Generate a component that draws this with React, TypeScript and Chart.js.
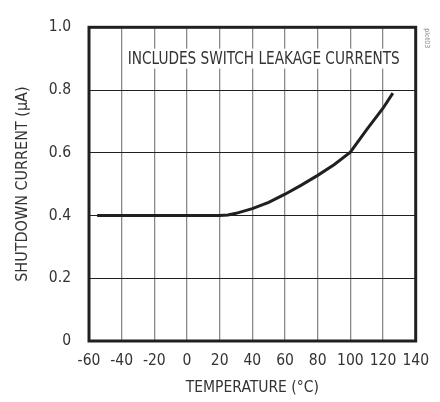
import React, { useEffect, useRef } from "react";
import { Chart, registerables } from "chart.js";

Chart.register(...registerables);

const temperatures = [-55, 20, 25, 30, 40, 50, 60, 70, 80, 90, 100, 110, 120, 126];
const shutdownCurrent = [0.4, 0.4, 0.402, 0.407, 0.422, 0.442, 0.468, 0.497, 0.528, 0.562, 0.602, 0.674, 0.742, 0.79];
const xTickValues = [-60, -40, -20, 0, 20, 40, 60, 80, 100, 120, 140];
const yTickValues = [0, 0.2, 0.4, 0.6, 0.8, 1.0];
const noteText = "INCLUDES SWITCH LEAKAGE CURRENTS";
const xTitle = "TEMPERATURE (°C)";
const yTitle = "SHUTDOWN CURRENT (µA)";
const fileTag = "plot03";

const FONT = "'Liberation Sans Narrow', 'DejaVu Sans Condensed', 'Roboto', sans-serif";
const INK = "#231f20";

const framePlugin = {
  id: "frame",
  beforeDatasetsDraw(chart: any) {
    const { ctx } = chart;
    const xs = chart.scales.x;
    const ys = chart.scales.y;
    ctx.save();
    ctx.font = `18px ${FONT}`;
    const w = ctx.measureText(noteText).width;
    const targetW = 272;
    const sx = targetW / w;
    const cx = xs.getPixelForValue(47);
    const cy = ys.getPixelForValue(0.9);
    ctx.fillStyle = "#ffffff";
    ctx.fillRect(cx - targetW / 2 - 3, cy - 10, targetW + 6, 20);
    ctx.translate(cx, cy);
    ctx.scale(sx, 1);
    ctx.fillStyle = "#333333";
    ctx.textAlign = "center";
    ctx.textBaseline = "middle";
    ctx.fillText(noteText, 0, 1);
    ctx.restore();
  },
  afterDatasetsDraw(chart: any) {
    const { ctx, chartArea } = chart;
    ctx.save();
    ctx.strokeStyle = INK;
    ctx.lineWidth = 3;
    ctx.strokeRect(chartArea.left, chartArea.top, chartArea.right - chartArea.left, chartArea.bottom - chartArea.top);
    ctx.translate(chartArea.right + 11, chartArea.top + 1);
    ctx.rotate(Math.PI / 2);
    ctx.font = `7px ${FONT}`;
    ctx.fillStyle = "#888888";
    ctx.textAlign = "left";
    ctx.textBaseline = "middle";
    ctx.fillText(fileTag, 0, 0);
    ctx.restore();
  },
};

export default function App() {
  const ref = useRef<HTMLCanvasElement | null>(null);
  useEffect(() => {
    if (!ref.current) return;
    const chart = new Chart(ref.current, {
      type: "line",
      data: {
        datasets: [
          {
            data: temperatures.map((t, i) => ({ x: t, y: shutdownCurrent[i] })),
            borderColor: INK,
            borderWidth: 3,
            pointRadius: 0,
            tension: 0,
            fill: false,
          },
        ],
      },
      options: {
        animation: false,
        responsive: true,
        maintainAspectRatio: false,
        layout: { padding: { top: 11, right: 23, left: 0, bottom: 0 } },
        plugins: { legend: { display: false }, tooltip: { enabled: false } },
        scales: {
          x: {
            type: "linear",
            min: -60,
            max: 140,
            afterFit: (s: any) => {
              s.height = 61;
            },
            afterBuildTicks: (s: any) => {
              s.ticks = xTickValues.map((v) => ({ value: v }));
            },
            ticks: {
              color: "#333333",
              font: { family: FONT, size: 15.5 },
              padding: 11,
              maxRotation: 0,
              autoSkip: false,
              callback: (v: any) => String(v),
            },
            grid: { color: "#8a8a8a", lineWidth: 1.3, drawTicks: false },
            border: { display: false },
            title: {
              display: true,
              text: xTitle,
              color: "#333333",
              font: { family: FONT, size: 15.5 },
              padding: { top: 0, bottom: 5 },
            },
          },
          y: {
            min: 0,
            max: 1,
            afterFit: (s: any) => {
              s.width = 89;
            },
            afterBuildTicks: (s: any) => {
              s.ticks = yTickValues.map((v) => ({ value: v }));
            },
            ticks: {
              color: "#333333",
              font: { family: FONT, size: 15.5 },
              padding: 18,
              autoSkip: false,
              callback: (v: any) => (Number(v) === 0 ? "0" : Number(v).toFixed(1)),
            },
            grid: { color: INK, lineWidth: 1, drawTicks: false },
            border: { display: false },
            title: {
              display: true,
              text: yTitle,
              color: "#333333",
              font: { family: FONT, size: 16 },
              padding: { top: 13, bottom: 0 },
            },
          },
        },
      },
      plugins: [framePlugin],
    });
    return () => chart.destroy();
  }, []);
  return (
    <div style={{ position: "absolute", left: 0, top: 0, width: 440, height: 402, background: "#ffffff" }}>
      <canvas ref={ref} />
    </div>
  );
}
